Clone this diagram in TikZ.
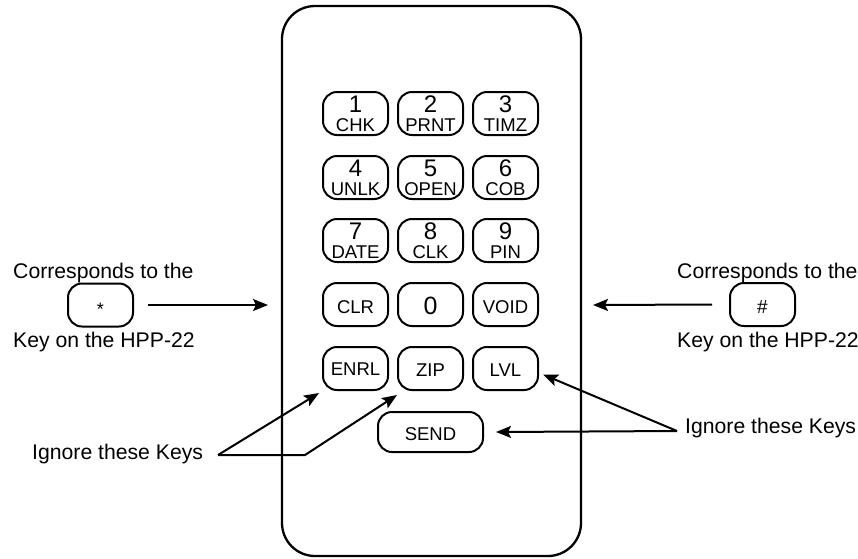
\documentclass[tikz,border=0pt]{standalone}
\usepackage{fontspec}
\setmainfont{Liberation Sans}
\usetikzlibrary{arrows.meta}
\begin{document}
\begin{tikzpicture}[x=1pt,y=-1pt,
 keybox/.style={draw,line width=2,rounded corners=14,minimum width=65,minimum height=43,inner sep=0},
 sendbox/.style={keybox,minimum width=105,minimum height=40},
 phonebox/.style={draw,line width=2.3,rounded corners=33,minimum width=299,minimum height=550,inner sep=0},
 dig/.style={inner sep=0,anchor=base,text depth=0,font=\fontsize{24}{24}\selectfont},
 zero/.style={inner sep=0,anchor=base,font=\fontsize{25}{25}\selectfont},
 wrd/.style={inner sep=0,anchor=base,text height=13.4,text depth=0,font=\fontsize{18.5}{18.5}\selectfont},
 lbl/.style={inner sep=0,anchor=base west,font=\fontsize{21.2}{21.2}\selectfont},
 arr/.style={line width=2,-{Stealth[length=15,width=12,inset=3]}},
]
\useasboundingbox (0,0) rectangle (858,558);
% phone body
\node[phonebox] (phone) at (431.5,281) {};
% row 1
\node[keybox] (k1) at (355.5,113.5) {};
\node[dig] (k1d) at (355.5,112.5) {1};
\node[wrd] (k1w) at (355.5,131) {CHK};
\node[keybox] (k2) at (430.5,113.5) {};
\node[dig] (k2d) at (430.5,112.5) {2};
\node[wrd] (k2w) at (430.5,131) {PRNT};
\node[keybox] (k3) at (505.5,113.5) {};
\node[dig] (k3d) at (505.5,112.5) {3};
\node[wrd] (k3w) at (505.5,131) {TIMZ};
% row 2
\node[keybox] (k4) at (355.5,177.5) {};
\node[dig] (k4d) at (355.5,176.5) {4};
\node[wrd] (k4w) at (355.5,195) {UNLK};
\node[keybox] (k5) at (430.5,177.5) {};
\node[dig] (k5d) at (430.5,176.5) {5};
\node[wrd] (k5w) at (430.5,195) {OPEN};
\node[keybox] (k6) at (505.5,177.5) {};
\node[dig] (k6d) at (505.5,176.5) {6};
\node[wrd] (k6w) at (505.5,195) {COB};
% row 3
\node[keybox] (k7) at (355.5,240.5) {};
\node[dig] (k7d) at (355.5,239.5) {7};
\node[wrd] (k7w) at (355.5,258) {DATE};
\node[keybox] (k8) at (430.5,240.5) {};
\node[dig] (k8d) at (430.5,239.5) {8};
\node[wrd] (k8w) at (430.5,258) {CLK};
\node[keybox] (k9) at (505.5,240.5) {};
\node[dig] (k9d) at (505.5,239.5) {9};
\node[wrd] (k9w) at (505.5,258) {PIN};
% row 4
\node[keybox] (clr) at (355.5,304.5) {};
\node[wrd] (clrt) at (355.5,313) {CLR};
\node[keybox] (k0) at (430.5,304.5) {};
\node[zero] (k0t) at (430.5,314.5) {0};
\node[keybox] (void) at (505.5,304.5) {};
\node[wrd] (voidt) at (505.5,313) {VOID};
% row 5
\node[keybox] (enrl) at (355.5,368.5) {};
\node[wrd] (enrlt) at (355.5,375.5) {ENRL};
\node[keybox] (zip) at (430.5,368.5) {};
\node[wrd] (zipt) at (430.5,376.5) {ZIP};
\node[keybox] (lvl) at (505.5,368.5) {};
\node[wrd] (lvlt) at (505.5,376.5) {LVL};
% send
\node[sendbox] (send) at (430.5,432) {};
\node[wrd] (sendt) at (430.5,440) {SEND};
% left key description
\node[lbl] (lc) at (13,278) {Corresponds to the};
\node[keybox] (star) at (100.5,305) {};
\node[inner sep=0,anchor=base,font=\fontsize{18}{18}\selectfont] (start) at (100.5,315) {*};
\node[lbl] (lk) at (13,347) {Key on the HPP-22};
\coordinate (lt) at (268,305);
\draw[arr] ([xshift=14]star.east) -- (lt);
% right key description
\node[lbl] (rc) at (677,278) {Corresponds to the};
\node[keybox] (hash) at (762.5,304.5) {};
\node[inner sep=0,anchor=base,font=\fontsize{19}{19}\selectfont] (hasht) at (762.5,313) {\#};
\node[lbl] (rk) at (677,347) {Key on the HPP-22};
\coordinate (rt) at (593,305);
\draw[arr] ([xshift=-17]hash.west) -- (rt);
% ignore labels
\node[lbl] (ign1) at (32,459) {Ignore these Keys};
\coordinate (v1) at (218,455);
\coordinate (b1) at (305,455);
\draw[arr] (v1) -- ([shift={(-3,2)}]enrl.south west);
\draw[arr] (v1) -- (b1) -- ([shift={(0,4)}]zip.south west);
\node[lbl] (ign2) at (685,433) {Ignore these Keys};
\coordinate (v2) at (677,431);
\draw[arr] (v2) -- ([shift={(4,6)}]lvl.east);
\draw[arr] (v2) -- ([xshift=12]send.east);
\end{tikzpicture}
\end{document}
